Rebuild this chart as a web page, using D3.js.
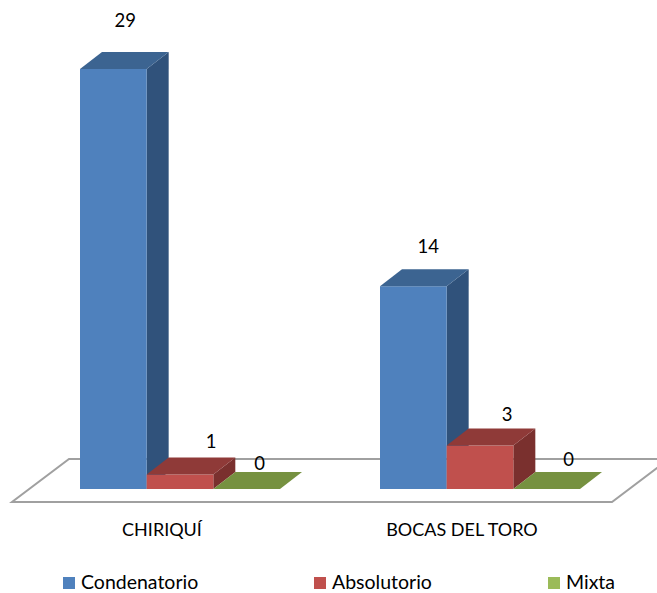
<!DOCTYPE html>
<html><head><meta charset="utf-8">
<script src="https://cdnjs.cloudflare.com/ajax/libs/d3/7.8.5/d3.min.js"></script>
<style>html,body{margin:0;padding:0;background:#fff}svg{display:block}text{font-family:Lato,"Open Sans",sans-serif;fill:#000}</style>
</head><body><svg id="c" width="657" height="593"></svg>
<script>
const categories = ["CHIRIQUÍ", "BOCAS DEL TORO"];
const seriesNames = ["Condenatorio", "Absolutorio", "Mixta"];
const condenatorio = [29, 14];
const absolutorio = [1, 3];
const mixta = [0, 0];
const seriesValues = [condenatorio, absolutorio, mixta];

const front = ["#4F81BD", "#C0504D", "#9BBB59"];
const top_ = ["#3C6491", "#8F3A38", "#769140"];
const side = ["#30527B", "#7A302E", "#637A36"];
const dx = 22, dy = -17;
const baseY = 489, topY = 69;

const svg = d3.select("#c");
const x0 = d3.scaleBand().domain(categories).range([30, 630]);
const x1 = d3.scaleBand().domain(seriesNames).range([50, 250]);
const y = d3.scaleLinear().domain([0, 29]).range([baseY, topY]);

// floor
const floor = [[12, 502], [612, 502], [669, 459], [69, 459]];
svg.append("path").attr("d", d3.line()(floor) + "Z")
  .attr("fill", "#fff").attr("stroke", "#A0A0A0").attr("stroke-width", 2).attr("stroke-linejoin", "miter");

const poly = pts => d3.line()(pts) + "Z";
// label nudges per series then category: [dx, baseline offset from bar top]
const labelNudge = [
  [[12, -42], [15, -33]],
  [[31, -26.5], [27, -24.5]],
  [[13, -19], [22, -23]]
];

categories.forEach((cat, ci) => {
  seriesNames.forEach((s, si) => {
    const v = seriesValues[si][ci];
    const l = x0(cat) + x1(s), r = l + x1.bandwidth();
    const t = y(v), b = y(0);
    const g = svg.append("g");
    if (v > 0) {
      g.append("path").attr("d", poly([[r, t], [r + dx, t + dy], [r + dx, b + dy], [r, b]])).attr("fill", side[si]);
      g.append("rect").attr("x", l).attr("y", t).attr("width", r - l).attr("height", b - t).attr("fill", front[si]);
    }
    g.append("path").attr("d", poly([[l, t], [r, t], [r + dx, t + dy], [l + dx, t + dy]])).attr("fill", top_[si]);
  });
});

categories.forEach((cat, ci) => {
  seriesNames.forEach((s, si) => {
    const v = seriesValues[si][ci];
    const l = x0(cat) + x1(s);
    const [nx, ny] = labelNudge[si][ci];
    svg.append("text").attr("x", l + x1.bandwidth() / 2 + nx)
      .attr("y", y(v) + ny)
      .attr("text-anchor", "middle").attr("font-size", 18.5).text(v);
  });
  svg.append("text").attr("x", x0(cat) + x0.bandwidth() / 2 - 18).attr("y", 536)
    .attr("text-anchor", "middle").attr("font-size", 18).text(cat);
});

// legend
const legendX = d3.scaleOrdinal().domain(seriesNames).range([63, 314, 548]);
seriesNames.forEach((s, i) => {
  svg.append("rect").attr("x", legendX(s)).attr("y", 577).attr("width", 12).attr("height", 12).attr("fill", front[i]);
  svg.append("text").attr("x", legendX(s) + 18).attr("y", 589).attr("font-size", 19.5).text(s);
});
</script></body></html>
